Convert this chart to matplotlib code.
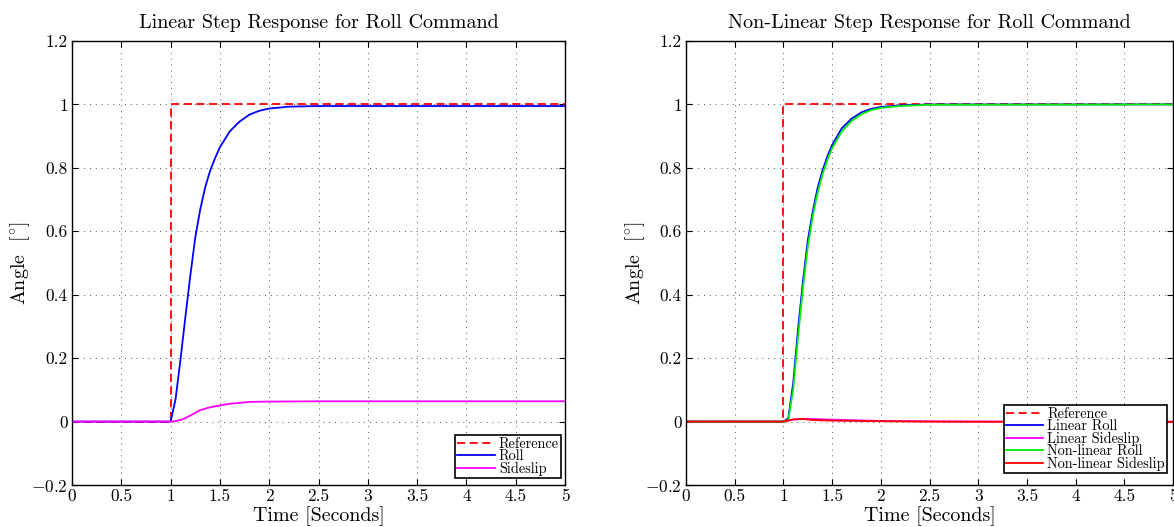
import matplotlib
matplotlib.use("Agg")
import matplotlib.pyplot as plt

plt.rcParams['font.family'] = 'serif'
plt.rcParams['font.serif'] = ['cmr10', 'DejaVu Serif']
plt.rcParams['mathtext.fontset'] = 'cm'
plt.rcParams['axes.unicode_minus'] = False

# ---- data ----
ref_t = [0, 1, 1, 5]
ref_y = [0, 0, 1, 1]

lin_t = [0, 1.0, 1.05, 1.1, 1.15, 1.2, 1.25, 1.3, 1.35, 1.4, 1.45, 1.5, 1.6, 1.7, 1.8, 1.9, 2.0, 2.2, 2.5, 3.0, 5.0]
lin_roll = [0, 0, 0.07, 0.195, 0.33, 0.46, 0.58, 0.668, 0.738, 0.79, 0.83, 0.865, 0.915, 0.946, 0.968, 0.98, 0.987, 0.993, 0.995, 0.995, 0.995]

slip_t = [0, 1.0, 1.05, 1.1, 1.15, 1.2, 1.3, 1.4, 1.5, 1.6, 1.7, 1.8, 2.0, 2.5, 5.0]
lin_slip = [0, 0, 0.0015, 0.005, 0.011, 0.019, 0.036, 0.045, 0.051, 0.056, 0.059, 0.062, 0.063, 0.064, 0.064]

nl_t = [0, 1.0, 1.05, 1.1, 1.15, 1.2, 1.25, 1.3, 1.35, 1.4, 1.45, 1.5, 1.6, 1.7, 1.8, 1.9, 2.0, 2.2, 2.5, 5.0]
nl_lin_roll = [0, 0, 0.01, 0.12, 0.29, 0.44, 0.57, 0.66, 0.735, 0.79, 0.835, 0.872, 0.925, 0.955, 0.975, 0.986, 0.992, 0.997, 1.0, 1.0]
nl_nl_roll = [0, 0, 0.005, 0.10, 0.265, 0.42, 0.55, 0.645, 0.72, 0.778, 0.824, 0.862, 0.915, 0.948, 0.969, 0.982, 0.989, 0.995, 0.999, 1.0]

ss_t = [0, 1.0, 1.1, 1.2, 1.3, 1.5, 1.75, 2.0, 2.5, 3.0, 5.0]
nl_lin_slip = [0, 0, 0.006, 0.009, 0.008, 0.006, 0.004, 0.002, 0.0005, 0.0, 0.0]
nl_nl_slip = [0, 0, 0.007, 0.008, 0.005, 0.003, 0.002, 0.001, 0.0, -0.0005, -0.001]

xticks = [0, 0.5, 1, 1.5, 2, 2.5, 3, 3.5, 4, 4.5, 5]
xticklabels = ['0', '0.5', '1', '1.5', '2', '2.5', '3', '3.5', '4', '4.5', '5']
yticks = [-0.2, 0, 0.2, 0.4, 0.6, 0.8, 1.0, 1.2]
yticklabels = ['$-$0.2', '0', '0.2', '0.4', '0.6', '0.8', '1', '1.2']

titles = ['Linear Step Response for Roll Command', 'Non-Linear Step Response for Roll Command']

fig = plt.figure(figsize=(11.74, 5.27), dpi=100)
ax1 = fig.add_axes([72/1174, 1-485/527, (565-72)/1174, 444/527])
ax2 = fig.add_axes([686/1174, 1-485/527, (1173-686)/1174, 444/527])

lw = 1.3
dash = (4.5, 2.5)
ax1.plot(ref_t, ref_y, '--', color='#ff0000', lw=lw, dashes=dash, label='Reference')
ax1.plot(lin_t, lin_roll, '-', color='#0000ff', lw=lw, label='Roll')
ax1.plot(slip_t, lin_slip, '-', color='#ff00ff', lw=lw, label='Sideslip')

ax2.plot(ref_t, ref_y, '--', color='#ff0000', lw=lw, dashes=dash, label='Reference')
ax2.plot(nl_t, nl_lin_roll, '-', color='#0000ff', lw=lw, label='Linear Roll')
ax2.plot(ss_t, nl_lin_slip, '-', color='#ff00ff', lw=lw, label='Linear Sideslip')
ax2.plot(nl_t, nl_nl_roll, '-', color='#00ee00', lw=lw, label='Non-linear Roll')
ax2.plot(ss_t, nl_nl_slip, '-', color='#ff0000', lw=lw, label='Non-linear Sideslip')

anchors = [((561-72)/493, (485-478)/444), ((1167-686)/487, (485-473)/444)]

for ax, title, anc in zip([ax1, ax2], titles, anchors):
    ax.set_xlim(0, 5)
    ax.set_ylim(-0.2, 1.2)
    ax.set_xticks(xticks)
    ax.set_xticklabels(xticklabels)
    ax.set_yticks(yticks)
    ax.set_yticklabels(yticklabels)
    ax.tick_params(direction='in', top=True, right=True, labelsize=12.5, length=4, width=0.8, pad=3)
    ax.grid(True, linestyle=(0, (1, 5)), color='#555555', linewidth=0.7)
    for s in ax.spines.values():
        s.set_linewidth(1.0)
    ax.set_title(title, fontsize=14.5, pad=9)
    ax.set_xlabel('Time [Seconds]', fontsize=14.4, labelpad=1)
    ax.set_ylabel(r'Angle  [$^{\circ}$]', fontsize=14.4)
    ax.yaxis.set_label_coords(-0.081, 0.5)
    leg = ax.legend(loc='lower right', bbox_to_anchor=anc, fontsize=10.3, frameon=True, fancybox=False,
                    edgecolor='black', framealpha=1, borderpad=0.15, labelspacing=-0.1,
                    handlelength=2.6, handletextpad=0.3, borderaxespad=0.0)
    leg.get_frame().set_linewidth(1.2)

fig.savefig('out.png', dpi=100)
